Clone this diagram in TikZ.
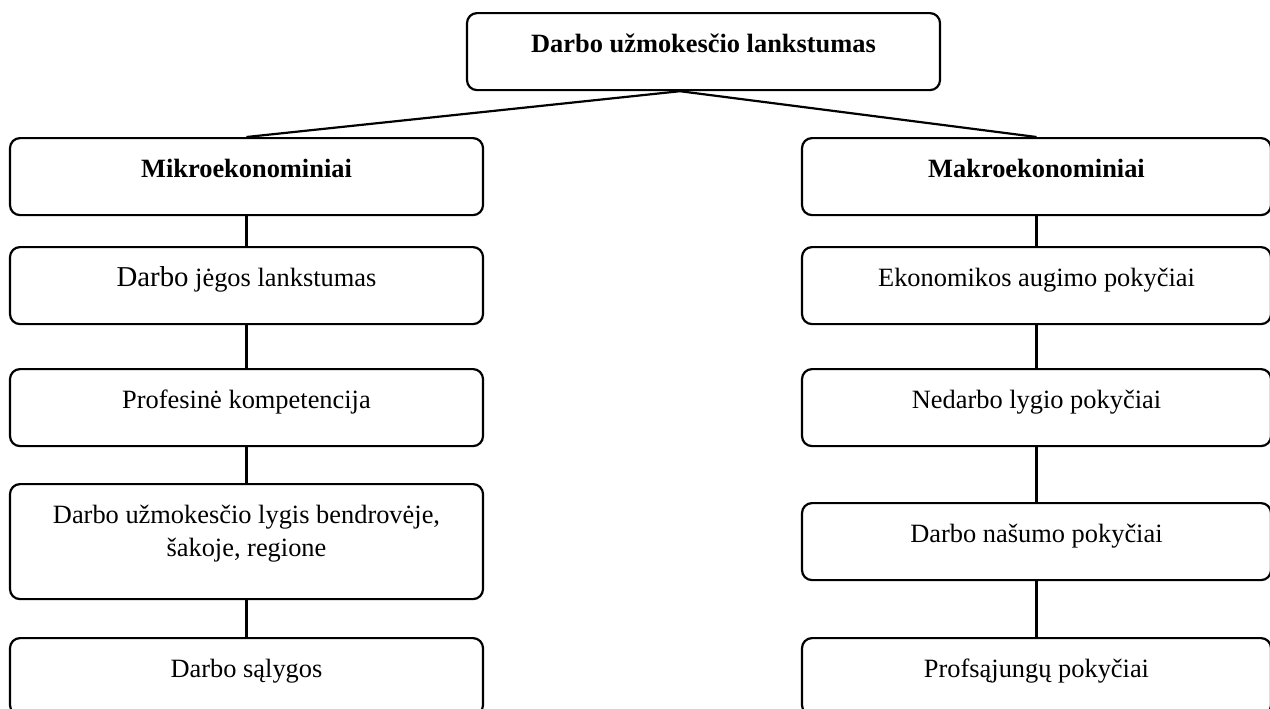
\documentclass[tikz,border=0pt]{standalone}
\usepackage{fontspec}
\setmainfont{Liberation Serif}
\usepackage{tikz}

\begin{document}
\begin{tikzpicture}[
  x=0.5pt, y=-0.5pt,
  box/.style={draw, line width=1.1pt, rounded corners=5pt, inner sep=0pt, anchor=north,
    minimum width=236.5pt, text height=19.5pt, text depth=19pt, align=center,
    font=\fontsize{13.2}{16.5}\selectfont},
  rbox/.style={box, minimum width=234.5pt},
  head/.style={font=\fontsize{13.2}{16.5}\selectfont\bfseries},
  tall/.style={text height=36pt, text depth=21.5pt},
  link/.style={line width=1.1pt},
]

\clip (0,0) rectangle (1270,708);

% Top node
\node[box, head] (top) at (703.5, 12) {Darbo užmokesčio lankstumas};

% Left column
\node[box, head] (mikro) at (246.5, 137) {Mikroekonominiai};
\node[box] (jega) at (246.5, 246) {{\fontsize{14.4}{16.5}\selectfont Darbo} jėgos lankstumas};
\node[box] (komp) at (246.5, 368) {Profesinė kompetencija};
\node[box, tall] (lygis) at (246.5, 483) {Darbo užmokesčio lygis bendrovėje,\\šakoje, regione};
\node[box] (salyg) at (246.5, 637) {Darbo sąlygos};

% Right column
\node[rbox, head] (makro) at (1036.5, 137) {Makroekonominiai};
\node[rbox] (augim) at (1036.5, 246) {Ekonomikos augimo pokyčiai};
\node[rbox] (nedarb) at (1036.5, 368) {Nedarbo lygio pokyčiai};
\node[rbox] (nasum) at (1036.5, 502) {Darbo našumo pokyčiai};
\node[rbox] (profs) at (1036.5, 637) {Profsąjungų pokyčiai};

% Connectors
\coordinate (split) at ([xshift=-11.75pt]top.south);
\draw[link] (split) -- (mikro.north);
\draw[link] (split) -- (makro.north);

\draw[link] (mikro.south) -- (jega.north);
\draw[link] (jega.south) -- (komp.north);
\draw[link] (komp.south) -- (lygis.north);
\draw[link] (lygis.south) -- (salyg.north);

\draw[link] (makro.south) -- (augim.north);
\draw[link] (augim.south) -- (nedarb.north);
\draw[link] (nedarb.south) -- (nasum.north);
\draw[link] (nasum.south) -- (profs.north);

\end{tikzpicture}
\end{document}
